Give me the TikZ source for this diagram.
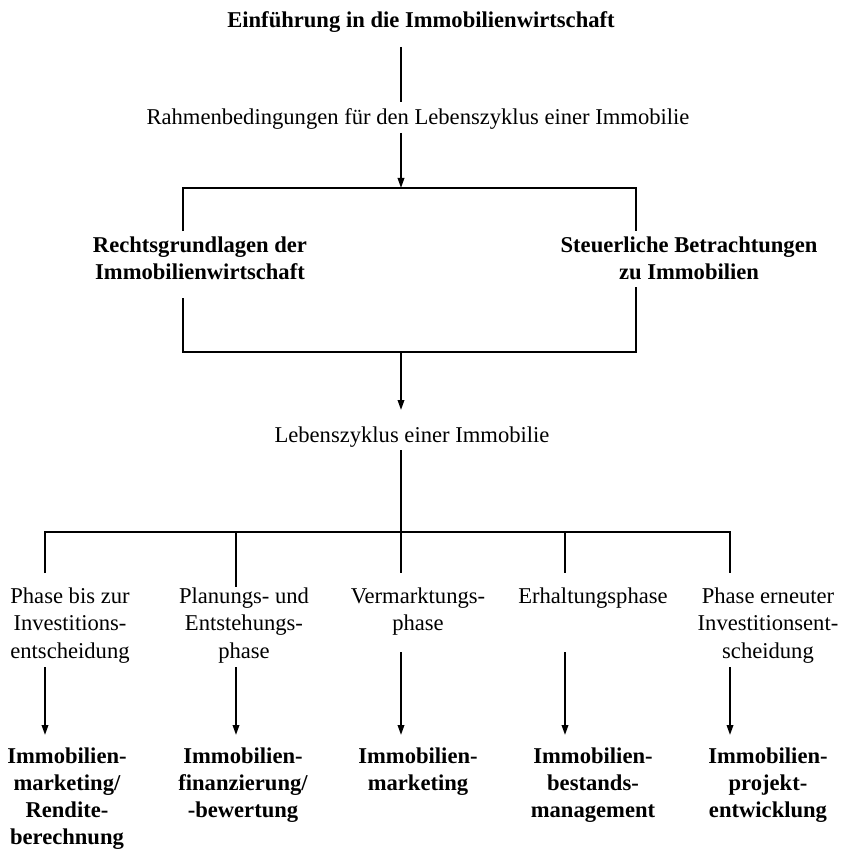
\documentclass[tikz,border=0pt]{standalone}
\usepackage{fontspec}
\setmainfont{Liberation Serif}
\usetikzlibrary{arrows.meta}
\begin{document}
\begin{tikzpicture}[x=1pt,y=-1pt,
  lbl/.style={inner sep=0pt, align=center, anchor=north, font=\fontsize{22.6}{27.5}\selectfont},
  blbl/.style={lbl, font=\fontsize{22.6}{27}\selectfont\bfseries},
  conn/.style={line width=1.8pt},
  arr/.style={conn, -{Triangle[length=10pt,width=6.5pt]}}]
\useasboundingbox (0,0) rectangle (843,850);
% texts
\node[blbl] (t1) at (421,11.5) {Einführung in die Immobilienwirtschaft};
\node[lbl] (t2) at (418,108.5) {Rahmenbedingungen für den Lebenszyklus einer Immobilie};
\node[blbl] (r1) at (200,237) {Rechtsgrundlagen der\\Immobilienwirtschaft};
\node[blbl] (r2) at (689,237) {Steuerliche Betrachtungen\\zu Immobilien};
\node[lbl] (t3) at (412,426.5) {Lebenszyklus einer Immobilie};
\node[lbl] (p1) at (70,587.5) {Phase bis zur\\Investitions-\\entscheidung};
\node[lbl] (p2) at (244,587.5) {Planungs- und\\Entstehungs-\\phase};
\node[lbl] (p3) at (418,587.5) {Vermarktungs-\\phase};
\node[lbl] (p4) at (593,587.5) {Erhaltungsphase};
\node[lbl] (p5) at (768,587.5) {Phase erneuter\\Investitionsent-\\scheidung};
\node[blbl] (b1) at (67,747.5) {Immobilien-\\marketing/\\Rendite-\\berechnung};
\node[blbl] (b2) at (243,747.5) {Immobilien-\\finanzierung/\\-bewertung};
\node[blbl] (b3) at (418,747.5) {Immobilien-\\marketing};
\node[blbl] (b4) at (593,747.5) {Immobilien-\\bestands-\\management};
\node[blbl] (b5) at (768,747.5) {Immobilien-\\projekt-\\entwicklung};
% coordinates
\coordinate (a1) at (401,47);
\coordinate (a2) at (401,102);
\coordinate (a3) at (401,133);
\coordinate (bt) at (401,188);
\coordinate (btl) at (183,188);
\coordinate (btr) at (636,188);
\coordinate (bl1) at (183,231);
\coordinate (br1) at (636,231);
\coordinate (bl2) at (183,298);
\coordinate (br2) at (636,287);
\coordinate (bbl) at (183,352);
\coordinate (bbr) at (636,352);
\coordinate (bb) at (401,352);
\coordinate (a4) at (401,410);
\coordinate (a5) at (401,450);
\coordinate (hc) at (401,532);
\coordinate (hl) at (45,532);
\coordinate (hr) at (730,532);
\coordinate (h2) at (236,532);
\coordinate (h4) at (565,532);
\coordinate (d1) at (45,573);
\coordinate (d2) at (236,587);
\coordinate (d3) at (401,573);
\coordinate (d4) at (565,573);
\coordinate (d5) at (730,573);
\coordinate (s1) at (45,667);
\coordinate (s2) at (236,667);
\coordinate (s3) at (401,652);
\coordinate (s4) at (565,652);
\coordinate (s5) at (730,667);
\coordinate (e1) at (45,735);
\coordinate (e2) at (236,735);
\coordinate (e3) at (401,735);
\coordinate (e4) at (565,735);
\coordinate (e5) at (730,735);
% connectors
\draw[conn] (a1) -- (a2);
\draw[arr] (a3) -- (bt);
\draw[conn] (bl1) -- (btl) -- (btr) -- (br1);
\draw[conn] (bl2) -- (bbl) -- (bbr) -- (br2);
\draw[arr] (bb) -- (a4);
\draw[conn] (a5) -- (hc);
\draw[conn] (d1) -- (hl) -- (hr) -- (d5);
\draw[conn] (h2) -- (d2);
\draw[conn] (hc) -- (d3);
\draw[conn] (h4) -- (d4);
\draw[arr] (s1) -- (e1);
\draw[arr] (s2) -- (e2);
\draw[arr] (s3) -- (e3);
\draw[arr] (s4) -- (e4);
\draw[arr] (s5) -- (e5);
\end{tikzpicture}
\end{document}
